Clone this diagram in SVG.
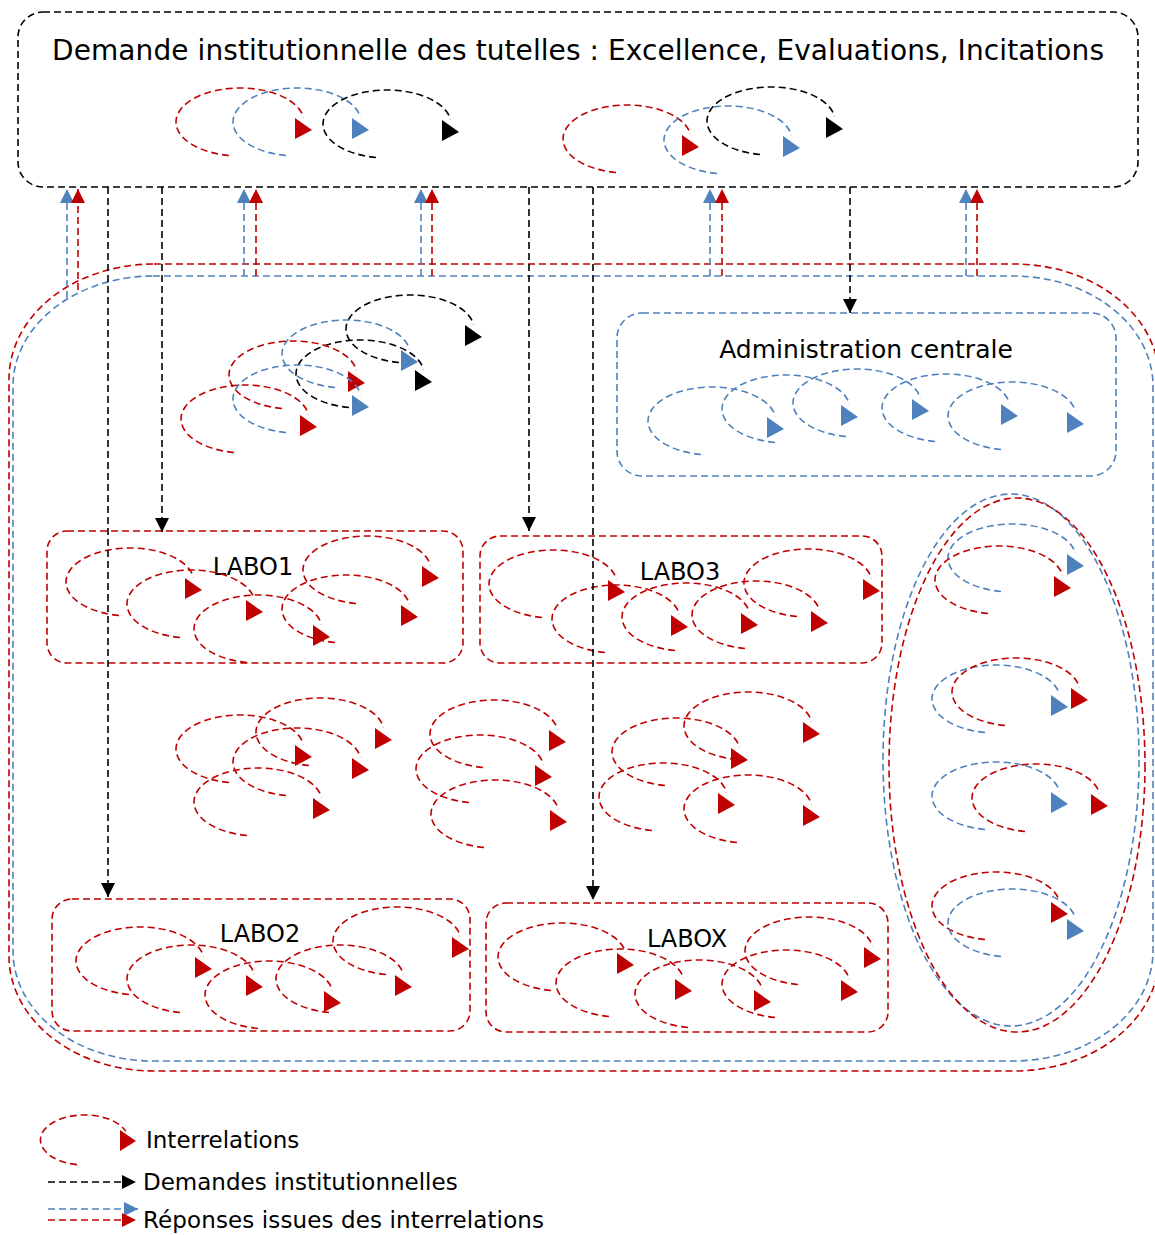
<svg xmlns="http://www.w3.org/2000/svg" width="1155" height="1235" viewBox="0 0 1155 1235">
<style>
.bx{fill:none;stroke-width:1.6;stroke-dasharray:7 4}
.kS{stroke:#000}
.rS{stroke:#C00000}
.bS{stroke:#4F81BD}
.cr{color:#C00000}
.cb{color:#4F81BD}
.ck{color:#000}
.ln{fill:none;stroke-width:1.6;stroke-dasharray:7 4}
.t{font-family:"DejaVu Sans","Liberation Sans",sans-serif;fill:#000}
</style>
<defs>
<g id="cu">
<path d="M-11,33.5 A64,34 0 1 1 63.4,-4.7" fill="none" stroke="currentColor" stroke-width="1.6" stroke-dasharray="7 4"/>
<polygon points="55,-4 55,17 72,8" fill="currentColor"/>
</g>
<marker id="mk" viewBox="0 0 14 14" refX="14" refY="7" markerWidth="14" markerHeight="14" markerUnits="userSpaceOnUse" orient="auto"><path d="M0,0 L14,7 L0,14 z" fill="#000"/></marker>
<marker id="mb" viewBox="0 0 14 14" refX="14" refY="7" markerWidth="14" markerHeight="14" markerUnits="userSpaceOnUse" orient="auto"><path d="M0,0 L14,7 L0,14 z" fill="#4F81BD"/></marker>
<marker id="mr" viewBox="0 0 14 14" refX="14" refY="7" markerWidth="14" markerHeight="14" markerUnits="userSpaceOnUse" orient="auto"><path d="M0,0 L14,7 L0,14 z" fill="#C00000"/></marker>
</defs>

<g id="container">
<rect class="bx rS" x="9" y="264" width="1150" height="807" rx="145" ry="115"/>
<rect class="bx bS" x="13" y="276" width="1140" height="785" rx="140" ry="110"/>
<use href="#cu" class="ck" x="410" y="329"/>
<use href="#cu" class="cb" x="346" y="354"/>
<use href="#cu" class="ck" x="360" y="374"/>
<use href="#cu" class="cr" x="293" y="375"/>
<use href="#cu" class="cb" x="297" y="399"/>
<use href="#cu" class="cr" x="245" y="419"/>
<use href="#cu" class="cr" x="240" y="749"/>
<use href="#cu" class="cr" x="320" y="732"/>
<use href="#cu" class="cr" x="297" y="762"/>
<use href="#cu" class="cr" x="258" y="802"/>
<use href="#cu" class="cr" x="494" y="734"/>
<use href="#cu" class="cr" x="480" y="769"/>
<use href="#cu" class="cr" x="495" y="814"/>
<use href="#cu" class="cr" x="748" y="726"/>
<use href="#cu" class="cr" x="676" y="752"/>
<use href="#cu" class="cr" x="663" y="797"/>
<use href="#cu" class="cr" x="748" y="809"/>
</g>

<g id="top">
<rect class="bx kS" x="18" y="12" width="1120" height="175" rx="25"/>
<text class="t" x="52" y="60" font-size="28" textLength="1052">Demande institutionnelle des tutelles : Excellence, Evaluations, Incitations</text>
<use href="#cu" class="cr" x="240" y="122"/>
<use href="#cu" class="cb" x="297" y="122"/>
<use href="#cu" class="ck" x="387" y="124"/>
<use href="#cu" class="cr" x="627" y="139"/>
<use href="#cu" class="cb" x="728" y="140"/>
<use href="#cu" class="ck" x="771" y="121"/>
</g>

<g id="admin">
<rect class="bx bS" x="617" y="313" width="499" height="163" rx="25"/>
<text class="t" x="866" y="358" font-size="25" text-anchor="middle">Administration centrale</text>
<use href="#cu" class="cb" x="712" y="421"/>
<use href="#cu" class="cb" x="786" y="409"/>
<use href="#cu" class="cb" x="857" y="403"/>
<use href="#cu" class="cb" x="946" y="408"/>
<use href="#cu" class="cb" x="1012" y="416"/>
</g>

<g id="labo1">
<rect class="bx rS" x="47" y="531" width="416" height="132" rx="20"/>
<text class="t" x="253" y="575" font-size="24" text-anchor="middle">LABO1</text>
<use href="#cu" class="cr" x="130" y="582"/>
<use href="#cu" class="cr" x="191" y="604"/>
<use href="#cu" class="cr" x="258" y="629"/>
<use href="#cu" class="cr" x="346" y="609"/>
<use href="#cu" class="cr" x="367" y="570"/>
</g>

<g id="labo3">
<rect class="bx rS" x="480" y="536" width="402" height="127" rx="20"/>
<text class="t" x="680" y="580" font-size="24" text-anchor="middle">LABO3</text>
<use href="#cu" class="cr" x="553" y="584"/>
<use href="#cu" class="cr" x="616" y="619"/>
<use href="#cu" class="cr" x="686" y="617"/>
<use href="#cu" class="cr" x="756" y="615"/>
<use href="#cu" class="cr" x="808" y="583"/>
</g>

<g id="labo2">
<rect class="bx rS" x="52" y="899" width="418" height="132" rx="20"/>
<text class="t" x="260" y="942" font-size="24" text-anchor="middle">LABO2</text>
<use href="#cu" class="cr" x="140" y="961"/>
<use href="#cu" class="cr" x="191" y="979"/>
<use href="#cu" class="cr" x="269" y="995"/>
<use href="#cu" class="cr" x="340" y="979"/>
<use href="#cu" class="cr" x="397" y="941"/>
</g>

<g id="labox">
<rect class="bx rS" x="486" y="903" width="402" height="129" rx="20"/>
<text class="t" x="687" y="947" font-size="24" text-anchor="middle">LABOX</text>
<use href="#cu" class="cr" x="562" y="957"/>
<use href="#cu" class="cr" x="620" y="983"/>
<use href="#cu" class="cr" x="699" y="994"/>
<use href="#cu" class="cr" x="786" y="984"/>
<use href="#cu" class="cr" x="809" y="951"/>
</g>

<g id="ellipse">
<ellipse class="bx bS" cx="1011" cy="760" rx="128" ry="266"/>
<ellipse class="bx rS" cx="1017" cy="765" rx="128" ry="267"/>
<use href="#cu" class="cb" x="1012" y="558"/>
<use href="#cu" class="cr" x="999" y="580"/>
<use href="#cu" class="cb" x="996" y="699"/>
<use href="#cu" class="cr" x="1016" y="692"/>
<use href="#cu" class="cb" x="996" y="796"/>
<use href="#cu" class="cr" x="1036" y="798"/>
<use href="#cu" class="cr" x="996" y="906"/>
<use href="#cu" class="cb" x="1012" y="923"/>
</g>

<g id="connectors">
<path class="ln kS" d="M108,187 V897" marker-end="url(#mk)"/>
<path class="ln kS" d="M162,187 V532" marker-end="url(#mk)"/>
<path class="ln kS" d="M529,187 V531" marker-end="url(#mk)"/>
<path class="ln kS" d="M593,187 V900" marker-end="url(#mk)"/>
<path class="ln kS" d="M850,187 V313" marker-end="url(#mk)"/>
<path class="ln bS" d="M67,298 V189" marker-end="url(#mb)"/>
<path class="ln rS" d="M78,290 V189" marker-end="url(#mr)"/>
<path class="ln bS" d="M244,276 V189" marker-end="url(#mb)"/>
<path class="ln rS" d="M256,276 V189" marker-end="url(#mr)"/>
<path class="ln bS" d="M421,276 V189" marker-end="url(#mb)"/>
<path class="ln rS" d="M432,276 V189" marker-end="url(#mr)"/>
<path class="ln bS" d="M710,276 V189" marker-end="url(#mb)"/>
<path class="ln rS" d="M722,276 V189" marker-end="url(#mr)"/>
<path class="ln bS" d="M966,276 V189" marker-end="url(#mb)"/>
<path class="ln rS" d="M977,276 V189" marker-end="url(#mr)"/>
</g>

<g id="legend">
<path class="ln rS" d="M77,1164.6 A44,25 0 1 1 125.8,1131.4"/>
<polygon points="120,1130 120,1151 136,1141" fill="#C00000"/>
<text class="t" x="146" y="1148" font-size="23">Interrelations</text>
<path class="ln kS" d="M48,1182 H136" marker-end="url(#mk)"/>
<text class="t" x="143" y="1190" font-size="23">Demandes institutionnelles</text>
<path class="ln bS" d="M48,1209 H138" marker-end="url(#mb)"/>
<path class="ln rS" d="M48,1220 H136" marker-end="url(#mr)"/>
<text class="t" x="143" y="1228" font-size="23" textLength="401">Réponses issues des interrelations</text>
</g>
</svg>
